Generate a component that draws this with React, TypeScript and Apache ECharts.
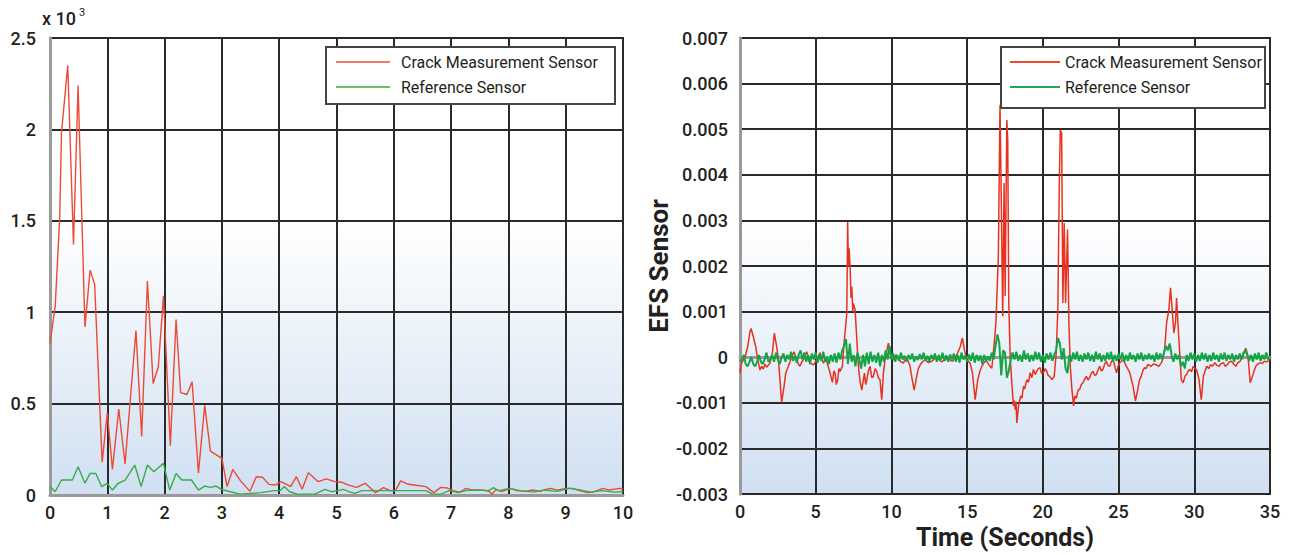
import React, { useEffect, useRef } from "react";
import * as echarts from "echarts";

// ---------- Left chart: spectrum (values in thousands, "x 10^3") ----------
const leftXTicks = [0, 1, 2, 3, 4, 5, 6, 7, 8, 9, 10];
const leftYTicks = [0, 0.5, 1, 1.5, 2, 2.5];

const leftCrack: [number, number][] = [
  [0, 0.83], [0.09, 1.03], [0.17, 1.52], [0.2, 1.98], [0.31, 2.35], [0.41, 1.37], [0.49, 2.24],
  [0.61, 0.92], [0.7, 1.23], [0.78, 1.15], [0.91, 0.18], [1.0, 0.45], [1.09, 0.14], [1.2, 0.47],
  [1.31, 0.17], [1.5, 0.9], [1.6, 0.32], [1.7, 1.17], [1.8, 0.61], [1.89, 0.7], [1.98, 1.09],
  [2.1, 0.27], [2.2, 0.96], [2.28, 0.56], [2.39, 0.55], [2.48, 0.62], [2.59, 0.12], [2.7, 0.49],
  [2.8, 0.24], [3.0, 0.2], [3.09, 0.046], [3.19, 0.14], [3.32, 0.08], [3.49, 0.02], [3.6, 0.1],
  [3.71, 0.097], [3.82, 0.058], [3.94, 0.055], [4.03, 0.073], [4.12, 0.06], [4.2, 0.046], [4.3, 0.1],
  [4.4, 0.031], [4.51, 0.122], [4.68, 0.073], [4.82, 0.088], [4.97, 0.073], [5.09, 0.07], [5.2, 0.055],
  [5.35, 0.042], [5.5, 0.064], [5.68, 0.013], [5.82, 0.04], [5.94, 0.024], [6.03, 0.024], [6.12, 0.077],
  [6.24, 0.06], [6.38, 0.053], [6.56, 0.046], [6.7, 0.013], [6.82, 0.042], [6.94, 0.038], [7.03, 0.024],
  [7.15, 0.015], [7.26, 0.036], [7.38, 0.027], [7.53, 0.027], [7.65, 0.022], [7.72, 0.005], [7.78, 0.031],
  [7.88, 0.018], [8.03, 0.036], [8.15, 0.024], [8.29, 0.02], [8.41, 0.027], [8.56, 0.02], [8.65, 0.031],
  [8.74, 0.036], [8.85, 0.027], [9.0, 0.036], [9.12, 0.036], [9.24, 0.024], [9.38, 0.013], [9.5, 0.018],
  [9.65, 0.036], [9.76, 0.027], [9.94, 0.036], [10.0, 0.033],
];

const leftReference: [number, number][] = [
  [0, 0.046], [0.09, 0.018], [0.2, 0.082], [0.39, 0.082], [0.49, 0.155], [0.61, 0.064], [0.7, 0.118],
  [0.8, 0.118], [0.9, 0.046], [1.0, 0.064], [1.09, 0.027], [1.19, 0.064], [1.31, 0.082], [1.48, 0.164],
  [1.59, 0.046], [1.7, 0.164], [1.81, 0.127], [1.98, 0.173], [2.09, 0.027], [2.2, 0.118], [2.3, 0.082],
  [2.47, 0.082], [2.59, 0.027], [2.7, 0.049], [2.8, 0.042], [2.9, 0.049], [2.99, 0.031], [3.15, 0.018],
  [3.32, 0.005], [3.5, 0.009], [3.68, 0.013], [3.91, 0.024], [4.02, 0.024], [4.09, 0.046], [4.18, 0.018],
  [4.32, 0.005], [4.62, 0.005], [4.8, 0.031], [4.91, 0.018], [5.12, 0.031], [5.24, 0.016], [5.32, 0.009],
  [5.44, 0.024], [5.74, 0.024], [6.03, 0.024], [6.26, 0.024], [6.56, 0.024], [6.68, 0.005], [6.82, 0.005],
  [6.97, 0.024], [7.12, 0.013], [7.26, 0.024], [7.44, 0.027], [7.65, 0.024], [7.74, 0.04], [7.82, 0.024],
  [8.03, 0.036], [8.2, 0.024], [8.44, 0.016], [8.62, 0.027], [8.85, 0.02], [9.06, 0.036], [9.26, 0.027],
  [9.44, 0.016], [9.62, 0.024], [9.85, 0.016], [10.0, 0.018],
];

// ---------- Right chart: EFS sensor vs time (values in units of 0.001) ----------
const rightXTicks = [0, 5, 10, 15, 20, 25, 30, 35];
const rightYTicks = [-3, -2, -1, 0, 1, 2, 3, 4, 5, 6, 7]; // x 0.001

const rightCrack: [number, number][] = [
  [0, -0.35], [0.11, -0.13], [0.33, 0.0], [0.51, 0.23], [0.66, 0.56], [0.73, 0.63], [0.88, 0.45],
  [1.04, 0.23], [1.17, -0.06], [1.32, -0.28], [1.43, -0.2], [1.54, -0.26], [1.65, -0.15], [1.76, -0.22],
  [1.98, -0.13], [2.14, 0.09], [2.27, 0.53], [2.42, 0.23], [2.53, -0.02], [2.64, -0.5], [2.75, -0.99],
  [2.91, -0.64], [3.02, -0.35], [3.19, -0.2], [3.3, -0.1], [3.41, 0.0], [3.57, 0.12], [3.74, -0.06],
  [3.85, -0.15], [3.96, -0.2], [4.08, -0.1], [4.19, -0.06], [4.3, 0.05], [4.41, 0.12], [4.52, -0.05],
  [4.63, -0.13], [4.85, -0.17], [5.07, -0.06], [5.18, 0.02], [5.29, 0.1], [5.4, -0.05], [5.51, -0.13],
  [5.62, -0.05], [5.73, -0.09], [5.95, -0.35], [6.1, -0.55], [6.2, -0.3], [6.28, -0.35], [6.36, -0.6],
  [6.45, -0.5], [6.53, -0.25], [6.61, -0.31], [6.76, -0.2], [6.89, 0.38], [7.0, 0.75], [7.05, 0.96],
  [7.11, 2.97], [7.16, 2.0], [7.2, 2.39], [7.27, 1.99], [7.33, 1.3], [7.38, 1.55], [7.45, 1.0],
  [7.49, 1.18], [7.6, 1.04], [7.71, 0.42], [7.78, 0.0], [7.85, -0.3], [7.93, -0.53], [8.04, -0.72],
  [8.12, -0.55], [8.22, -0.35], [8.3, -0.6], [8.37, -0.5], [8.48, -0.3], [8.59, -0.2], [8.7, -0.45],
  [8.81, -0.42], [8.92, -0.25], [9.03, -0.31], [9.14, -0.45], [9.25, -0.5], [9.36, -0.93], [9.47, -0.35],
  [9.58, -0.06], [9.7, 0.15], [9.8, 0.31], [9.91, 0.09], [10.02, -0.02], [10.13, -0.06], [10.3, 0.05],
  [10.46, -0.02], [10.62, -0.1], [10.79, -0.13], [10.9, -0.05], [11.01, -0.02], [11.12, -0.1],
  [11.23, -0.2], [11.35, -0.45], [11.5, -0.72], [11.6, -0.55], [11.67, -0.42], [11.78, -0.25],
  [11.89, -0.17], [12.05, -0.1], [12.22, -0.06], [12.45, -0.12], [12.67, -0.09], [12.9, -0.02],
  [13.1, -0.04], [13.3, -0.1], [13.55, -0.06], [13.75, -0.02], [13.99, -0.09], [14.15, -0.05],
  [14.32, 0.05], [14.54, 0.23], [14.69, 0.42], [14.82, 0.16], [14.98, -0.06], [15.2, -0.13],
  [15.35, -0.35], [15.53, -0.93], [15.62, -0.7], [15.7, -0.5], [15.85, -0.3], [15.97, -0.2],
  [16.15, -0.1], [16.3, -0.09], [16.51, -0.2], [16.63, -0.24], [16.73, 0.09], [16.9, 0.75],
  [17.06, 2.2], [17.17, 5.53], [17.24, 3.82], [17.35, 0.9], [17.44, 3.82], [17.51, 1.34], [17.62, 5.2],
  [17.68, 4.77], [17.75, 1.19], [17.84, 0.02], [17.95, -0.56], [18.06, -1.07], [18.12, -0.95],
  [18.17, -1.15], [18.23, -0.98], [18.28, -1.44], [18.39, -1.07], [18.46, -0.95], [18.54, -0.85],
  [18.62, -0.9], [18.72, -0.64], [18.8, -0.7], [18.94, -0.49], [19.05, -0.55], [19.16, -0.34],
  [19.27, -0.45], [19.38, -0.27], [19.5, -0.38], [19.6, -0.31], [19.7, -0.25], [19.82, -0.23],
  [19.92, -0.36], [20.04, -0.34], [20.15, -0.25], [20.26, -0.31], [20.35, -0.4], [20.44, -0.42],
  [20.6, -0.49], [20.75, -0.42], [20.88, 0.09], [20.99, 1.04], [21.08, 3.67], [21.15, 4.99],
  [21.24, 4.91], [21.32, 1.19], [21.41, 2.94], [21.5, 1.19], [21.63, 2.8], [21.72, 0.75], [21.81, -0.2],
  [21.92, -0.71], [22.03, -1.07], [22.1, -0.85], [22.21, -0.9], [22.32, -0.72], [22.43, -0.71],
  [22.54, -0.6], [22.65, -0.56], [22.76, -0.48], [22.87, -0.42], [22.98, -0.5], [23.09, -0.45],
  [23.2, -0.35], [23.31, -0.31], [23.42, -0.4], [23.53, -0.38], [23.64, -0.28], [23.75, -0.2],
  [23.86, -0.3], [23.97, -0.27], [24.08, -0.15], [24.19, -0.09], [24.3, -0.18], [24.42, -0.2],
  [24.53, -0.1], [24.64, -0.05], [24.75, -0.2], [24.86, -0.34], [24.97, -0.2], [25.08, -0.12],
  [25.3, -0.05], [25.52, -0.2], [25.74, -0.34], [25.96, -0.64], [26.11, -0.96], [26.27, -0.71],
  [26.38, -0.5], [26.49, -0.42], [26.6, -0.3], [26.71, -0.23], [26.82, -0.25], [26.93, -0.16],
  [27.15, -0.2], [27.3, -0.15], [27.44, -0.16], [27.66, -0.2], [27.88, -0.09], [28.04, 0.17],
  [28.17, 0.75], [28.32, 1.04], [28.43, 1.52], [28.54, 1.04], [28.65, 0.53], [28.76, 0.75],
  [28.83, 1.3], [28.92, 0.75], [29.05, 0.02], [29.14, -0.49], [29.27, -0.56], [29.38, -0.42],
  [29.49, -0.38], [29.6, -0.3], [29.71, -0.27], [29.82, -0.32], [29.93, -0.2], [30.04, -0.25],
  [30.15, -0.27], [30.31, -0.49], [30.46, -0.93], [30.6, -0.42], [30.82, -0.2], [30.95, -0.25],
  [31.08, -0.16], [31.2, -0.2], [31.35, -0.12], [31.5, -0.18], [31.63, -0.2], [31.78, -0.14],
  [31.92, -0.12], [32.05, -0.2], [32.19, -0.16], [32.32, -0.1], [32.45, -0.09], [32.6, -0.15],
  [32.74, -0.2], [32.88, -0.12], [33.02, -0.09], [33.25, 0.06], [33.4, 0.2], [33.55, 0.02],
  [33.69, -0.56], [33.84, -0.42], [33.95, -0.3], [34.06, -0.2], [34.2, -0.15], [34.35, -0.12],
  [34.5, -0.14], [34.61, -0.09], [34.8, -0.1], [35, -0.05],
];

// reference sensor sampled every 0.125 s (one line = one second)
const REF_STEP = 0.125;
const rightReferenceValues: number[] = [
  -0.1, -0.05, 0.05, -0.15, -0.2, -0.1, 0.0, -0.15,
  -0.2, -0.1, 0.05, -0.1, -0.15, -0.05, 0.1, -0.1,
  -0.05, 0.05, -0.1, 0.1, -0.05, -0.15, 0.0, 0.08,
  -0.1, 0.05, -0.05, 0.12, -0.08, 0.03, -0.12, 0.05,
  0.15, -0.05, 0.1, -0.1, 0.05, -0.15, 0.08, -0.05,
  0.1, -0.12, 0.05, -0.08, 0.12, -0.1, 0.0, -0.15,
  0.05, -0.1, 0.08, -0.12, 0.1, -0.05, 0.15, 0.25,
  0.4, -0.15, 0.3, -0.1, 0.05, -0.2, 0.1, -0.05,
  -0.25, 0.05, -0.2, 0.1, -0.15, 0.12, -0.1, 0.05,
  -0.12, 0.1, -0.2, 0.05, -0.1, 0.15, -0.05, 0.25,
  -0.05, 0.08, -0.1, 0.05, -0.08, 0.1, -0.05, 0.03,
  -0.1, 0.05, -0.05, 0.08, -0.1, 0.02, -0.06, 0.07,
  -0.05, 0.1, -0.08, 0.03, -0.1, 0.05, -0.04, 0.08,
  -0.1, 0.05, -0.06, 0.1, -0.08, 0.04, -0.1, 0.06,
  -0.05, 0.08, -0.1, 0.05, -0.12, 0.1, -0.05, 0.03,
  -0.1, 0.06, -0.08, 0.1, -0.12, 0.05, -0.08, 0.04,
  -0.15, 0.05, -0.1, 0.02, -0.08, 0.1, -0.05, 0.25,
  0.5, 0.3, -0.4, 0.15, 0.1, -0.45, -0.3, -0.05,
  0.1, -0.05, 0.12, -0.08, 0.05, -0.1, 0.15, -0.05,
  0.08, -0.1, 0.05, -0.08, 0.12, -0.05, 0.1, -0.1,
  0.05, -0.12, 0.08, -0.05, 0.1, -0.08, 0.05, 0.15,
  0.42, 0.3, -0.05, 0.2, -0.25, -0.35, 0.05, -0.1,
  0.1, -0.05, 0.12, -0.08, 0.05, -0.1, 0.08, -0.05,
  0.1, -0.08, 0.05, -0.1, 0.12, -0.05, 0.08, -0.1,
  0.05, -0.08, 0.1, -0.05, 0.12, -0.1, 0.05, -0.08,
  0.08, -0.05, 0.1, -0.1, 0.05, -0.08, 0.1, -0.05,
  0.05, -0.1, 0.08, -0.05, 0.1, -0.08, 0.05, -0.05,
  0.08, -0.05, 0.05, -0.1, 0.1, -0.05, 0.08, -0.05,
  0.1, 0.25, 0.15, 0.3, 0.05, -0.1, 0.08, -0.05,
  0.05, -0.2, -0.1, -0.25, 0.05, -0.08, 0.1, -0.05,
  0.08, -0.1, 0.05, -0.08, 0.1, -0.05, 0.08, -0.1,
  0.05, -0.08, 0.1, -0.05, 0.05, -0.1, 0.08, -0.05,
  0.1, -0.08, 0.05, -0.05, 0.08, -0.1, 0.05, -0.05,
  0.08, -0.05, 0.1, 0.15, 0.05, -0.08, 0.05, -0.1,
  0.08, -0.05, 0.1, -0.08, 0.05, -0.05, 0.1, -0.05,
  0.0,
];

const SERIES_CRACK = "Crack Measurement Sensor";
const SERIES_REF = "Reference Sensor";

const FONT = "Roboto, 'Liberation Sans', Arial, sans-serif";
const TEXT = "#231f20";

export default function App() {
  const ref = useRef<HTMLDivElement>(null);

  useEffect(() => {
    if (!ref.current) return;
    const chart = echarts.init(ref.current, undefined, { renderer: "svg" });

    const bg = new echarts.graphic.LinearGradient(0, 0, 0, 1, [
      { offset: 0, color: "#ffffff" },
      { offset: 0.4, color: "#ffffff" },
      { offset: 1, color: "#d0e0f2" },
    ]);

    const rightReference = rightReferenceValues.map((v, i) => [i * REF_STEP, v]);

    const axisCommon = {
      axisTick: { show: false },
      axisLine: { show: true, lineStyle: { color: "#9a9a9a", width: 3 } },
      splitLine: { show: true, lineStyle: { color: "#2a2a2a", width: 2 } },
      axisLabel: { color: TEXT, fontSize: 18, fontWeight: 500, fontFamily: FONT },
    };

    const option: any = {
      animation: false,
      backgroundColor: "#ffffff",
      grid: [
        {
          left: 50, right: 667, top: 38, bottom: 60,
          show: true, backgroundColor: bg, borderColor: "#333", borderWidth: 2,
        },
        {
          left: 740, right: 20, top: 38, bottom: 60,
          show: true, backgroundColor: bg, borderColor: "#333", borderWidth: 2,
        },
      ],
      xAxis: [
        {
          ...axisCommon, type: "value", gridIndex: 0,
          min: leftXTicks[0], max: leftXTicks[leftXTicks.length - 1], interval: 1,
          axisLabel: { ...axisCommon.axisLabel, margin: 8 },
        },
        {
          ...axisCommon, type: "value", gridIndex: 1,
          min: rightXTicks[0], max: rightXTicks[rightXTicks.length - 1], interval: 5,
          axisLabel: { ...axisCommon.axisLabel, margin: 8 },
          name: "Time (Seconds)", nameLocation: "middle", nameGap: 31,
          nameTextStyle: { color: TEXT, fontSize: 25, fontWeight: "bold", fontFamily: FONT },
        },
      ],
      yAxis: [
        {
          ...axisCommon, type: "value", gridIndex: 0,
          min: leftYTicks[0], max: leftYTicks[leftYTicks.length - 1], interval: 0.5,
          axisLabel: { ...axisCommon.axisLabel, margin: 14 },
        },
        {
          ...axisCommon, type: "value", gridIndex: 1,
          min: rightYTicks[0], max: rightYTicks[rightYTicks.length - 1], interval: 1,
          axisLabel: {
            ...axisCommon.axisLabel, margin: 12,
            formatter: (v: number) => (v === 0 ? "0" : (v / 1000).toFixed(3)),
          },
          name: "EFS Sensor", nameLocation: "middle", nameGap: 68,
          nameTextStyle: { color: TEXT, fontSize: 26, fontWeight: "bold", fontFamily: FONT },
        },
      ],
      legend: [
        {
          orient: "vertical", left: 336, top: 52, padding: 0, itemGap: 5,
          itemWidth: 54, itemHeight: 2, icon: "rect",
          data: [
            { name: SERIES_CRACK, itemStyle: { color: "#f27a62" } },
            { name: SERIES_REF, itemStyle: { color: "#6cc06c" } },
          ],
          textStyle: { color: TEXT, fontSize: 16, lineHeight: 20, fontFamily: FONT, padding: [0, 0, 0, 6] },
          selectedMode: false,
        },
        {
          orient: "vertical", left: 1010, top: 52, padding: 0, itemGap: 5,
          itemWidth: 50, itemHeight: 2, icon: "rect",
          data: [
            { name: SERIES_CRACK, itemStyle: { color: "#ee4a2c" } },
            { name: SERIES_REF, itemStyle: { color: "#22a84a" } },
          ],
          textStyle: { color: TEXT, fontSize: 16, lineHeight: 20, fontFamily: FONT, padding: [0, 0, 0, 0] },
          selectedMode: false,
        },
      ],
      graphic: [
        {
          type: "rect", z: 3, shape: { x: 326, y: 47, width: 289, height: 57 },
          style: { fill: "#ffffff", stroke: "#444", lineWidth: 2 },
        },
        {
          type: "rect", z: 3, shape: { x: 1001, y: 47, width: 264, height: 61 },
          style: { fill: "#ffffff", stroke: "#444", lineWidth: 2 },
        },
        {
          type: "text", left: 42, top: 9,
          style: { text: "x 10", fill: TEXT, fontSize: 18, fontWeight: 500, fontFamily: FONT },
        },
        {
          type: "text", left: 79, top: 7,
          style: { text: "3", fill: TEXT, fontSize: 11, fontFamily: FONT },
        },
      ],
      series: [
        {
          name: SERIES_CRACK, type: "line", xAxisIndex: 0, yAxisIndex: 0,
          data: leftCrack, showSymbol: false, symbol: "none",
          lineStyle: { color: "#ec4a36", width: 1.4 }, itemStyle: { color: "#ec4a36" }, z: 2,
        },
        {
          name: SERIES_REF, type: "line", xAxisIndex: 0, yAxisIndex: 0,
          data: leftReference, showSymbol: false, symbol: "none",
          lineStyle: { color: "#36ad4a", width: 1.4 }, itemStyle: { color: "#36ad4a" }, z: 2,
        },
        {
          name: SERIES_CRACK, type: "line", xAxisIndex: 1, yAxisIndex: 1,
          data: rightCrack, showSymbol: false, symbol: "none",
          lineStyle: { color: "#e8321f", width: 1.5 }, itemStyle: { color: "#e8321f" }, z: 2,
        },
        {
          name: SERIES_REF, type: "line", xAxisIndex: 1, yAxisIndex: 1,
          data: rightReference, showSymbol: false, symbol: "none",
          lineStyle: { color: "#13a544", width: 2 }, itemStyle: { color: "#13a544" }, z: 2,
        },
      ],
    };

    chart.setOption(option);
    return () => chart.dispose();
  }, []);

  return (
    <div
      ref={ref}
      style={{ position: "fixed", left: 0, top: 0, width: 1290, height: 555, background: "#fff" }}
    />
  );
}
